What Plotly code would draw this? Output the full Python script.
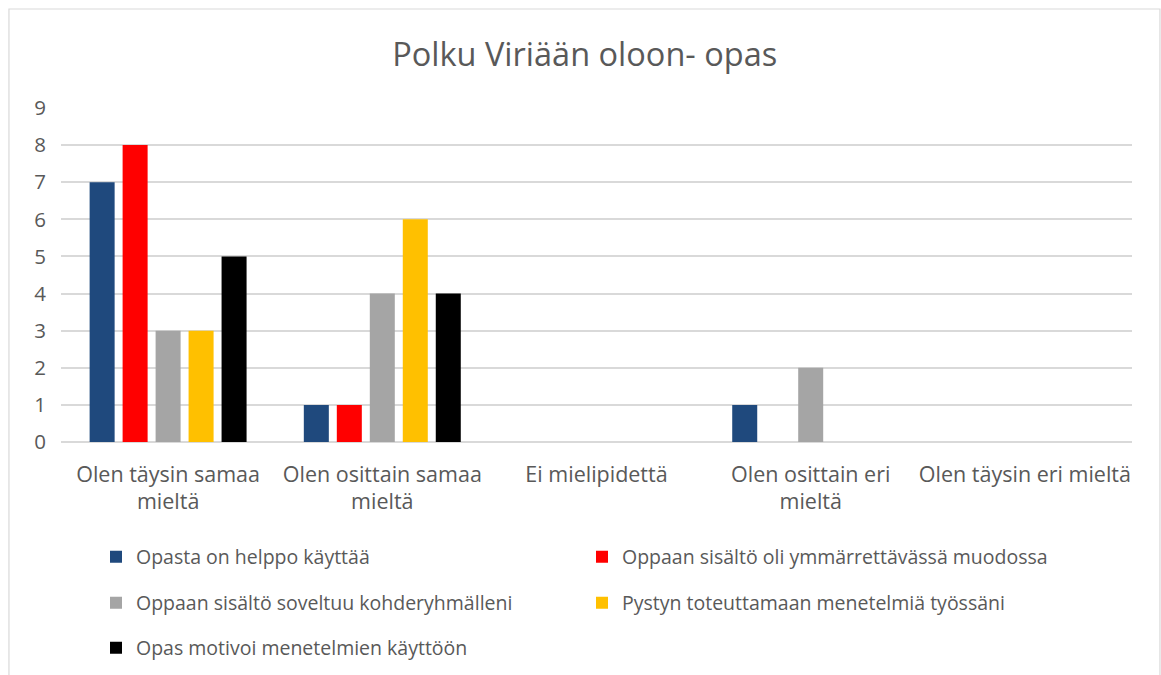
import plotly.graph_objects as go

categories = ["Olen täysin samaa<br>mieltä", "Olen osittain samaa<br>mieltä", "Ei mielipidettä",
              "Olen osittain eri<br>mieltä", "Olen täysin eri mieltä"]
series_names = ["Opasta on helppo käyttää", "Oppaan sisältö oli ymmärrettävässä muodossa",
                "Oppaan sisältö soveltuu kohderyhmälleni", "Pystyn toteuttamaan menetelmiä työssäni",
                "Opas motivoi menetelmien käyttöön"]
s1 = [7, 1, 0, 1, 0]
s2 = [8, 1, 0, 0, 0]
s3 = [3, 4, 0, 2, 0]
s4 = [3, 6, 0, 0, 0]
s5 = [5, 4, 0, 0, 0]
colors = ["#1F497D", "#FF0000", "#A5A5A5", "#FFC000", "#000000"]
legend_ids = ["legend", "legend", "legend2", "legend2", "legend3"]

FONT = "Open Sans"
TXT = "#595959"

fig = go.Figure()
for name, vals, col, lg in zip(series_names, [s1, s2, s3, s4, s5], colors, legend_ids):
    fig.add_trace(go.Bar(x=categories, y=vals, name=name, marker=dict(color=col, line=dict(width=0)),
                         legend=lg))

W, H = 1161, 675
legend_common = dict(orientation="h", xref="container", yref="container", x=96 / W, xanchor="left",
                     yanchor="middle", entrywidth=441, entrywidthmode="pixels",
                     font=dict(family=FONT, size=19.5, color=TXT), bgcolor="rgba(0,0,0,0)",
                     itemclick=False, itemdoubleclick=False)

fig.update_layout(
    width=W, height=H,
    paper_bgcolor="white", plot_bgcolor="white",
    margin=dict(l=61, r=29, t=108, b=233),
    title=dict(text="Polku Viriään oloon- opas", x=0.489, xanchor="center", xref="paper",
               y=1 - 55 / H, yanchor="middle", yref="container",
               font=dict(family=FONT, size=32.5, color=TXT)),
    barmode="group", bargap=0.23, bargroupgap=0.242,
    font=dict(family=FONT, color=TXT),
    legend=dict(**legend_common, y=1 - 557 / H),
    legend2=dict(**legend_common, y=1 - 603 / H),
    legend3=dict(**legend_common, y=1 - 648 / H),
    xaxis=dict(showgrid=False, showline=False, ticks="", tickfont=dict(family=FONT, size=21.5, color=TXT),
               ticklabelstandoff=17),
    yaxis=dict(range=[0, 9], dtick=1, showgrid=True, gridcolor="#D9D9D9", gridwidth=1.5,
               zeroline=True, zerolinecolor="#D9D9D9", zerolinewidth=1.5, showline=False, ticks="",
               tickfont=dict(family=FONT, size=20.5, color=TXT), ticklabelstandoff=14),
    shapes=[dict(type="path", xref="paper", yref="paper",
                 path="M -0.0486,-0.75 L -0.0486,1.2964 L 1.0261,1.2964 L 1.0261,-0.75",
                 line=dict(color="#D9D9D9", width=1.2))],
)

fig.write_html("out.html", config={"displayModeBar": False},
               post_script="document.body.style.margin='0px';")
